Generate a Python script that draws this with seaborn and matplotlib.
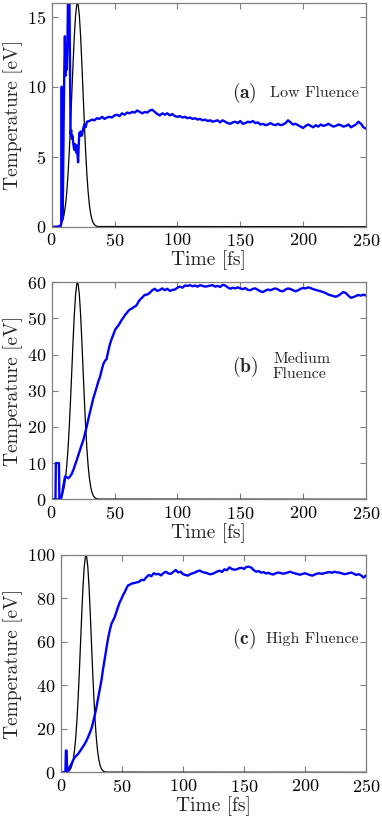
import numpy as np
import pandas as pd
import matplotlib
matplotlib.use("Agg")
import matplotlib.pyplot as plt
import seaborn as sns

# ---------------- data ----------------
pulse_time = [0, 4, 5, 6, 7, 8, 9, 10, 11, 12, 13, 14, 15, 16, 17, 18, 19, 20, 20.5,
              21, 22, 23, 24, 25, 26, 27, 28, 29, 30, 31, 32, 33, 34, 35, 36, 37, 250]
pulse_norm = [0, 0.0009, 0.002, 0.0044, 0.009, 0.0177, 0.0329, 0.058, 0.0972, 0.1548,
              0.2339, 0.3358, 0.4578, 0.5927, 0.7288, 0.851, 0.9435, 0.9936, 1.0,
              0.9936, 0.9435, 0.851, 0.7288, 0.5927, 0.4578, 0.3358, 0.2339, 0.1548,
              0.0972, 0.058, 0.0329, 0.0177, 0.009, 0.0044, 0.002, 0.0009, 0]

# (a) Low fluence
a_time_early = [0, 7.0, 7.6, 8.0, 8.4, 9.0, 9.5, 10.0, 10.5, 11.0, 11.5, 12.0, 12.5, 13.0,
                13.5, 14.0, 14.5, 15.0, 15.5, 16.0, 16.5, 17.0, 17.5, 18.0, 18.5, 19.0,
                19.5, 20.0, 20.5, 21.0, 21.5, 22.0, 22.5, 23.0, 23.5, 24.0, 25.0, 26.0,
                27.0, 28.0]
a_temp_early = [0, 0, 0.2, 10.0, 0.5, 2.5, 7.5, 11.0, 13.6, 10.8, 11.6, 11.2, 12.8, 16.5,
                18.0, 17.5, 12.0, 6.6, 6.9, 6.3, 6.5, 6.1, 5.7, 5.5, 5.9, 5.6,
                5.3, 5.8, 5.2, 4.6, 5.8, 6.7, 6.5, 6.8, 6.6, 6.5, 7.0, 7.3,
                7.1, 7.5]
a_time_late = list(np.arange(30, 251, 2))
a_temp_late = [7.55, 7.65, 7.6, 7.75, 7.7, 7.85, 7.7, 7.8, 7.85,
               7.8, 7.95, 8.0, 7.9, 8.1, 8.0, 8.15, 8.1,
               8.2, 8.15, 8.3, 8.2, 8.1, 8.2, 8.15, 8.3, 8.35,
               8.2, 8.05, 7.95, 8.1, 8.0, 8.1, 7.95, 8.05, 7.9, 7.85,
               7.9, 7.8, 7.85, 7.75, 7.8, 7.7, 7.75, 7.65, 7.7, 7.6,
               7.65, 7.55, 7.6, 7.5, 7.55, 7.6, 7.45, 7.6, 7.5, 7.4,
               7.35, 7.45, 7.5, 7.4, 7.55, 7.35, 7.4, 7.5, 7.45, 7.55,
               7.4, 7.45, 7.3, 7.35, 7.25, 7.3, 7.4, 7.3, 7.25, 7.35,
               7.25, 7.3, 7.4, 7.6, 7.45, 7.3, 7.35, 7.25, 7.15, 7.05,
               7.2, 7.3, 7.2, 7.1, 7.25, 7.15, 7.3, 7.2, 7.25, 7.35,
               7.25, 7.15, 7.2, 7.3, 7.25, 7.15, 7.2, 7.3, 7.1, 7.2,
               7.3, 7.5, 7.35, 7.1, 7.0]

# (b) Medium fluence
b_time_early = [0, 3.0, 3.3, 5.8, 6.1, 7.4, 8.0, 9.3, 10.6, 11.9, 13.2, 14.6, 15.9, 17.2,
                18.5, 19.9, 21.2, 22.5, 23.8, 25.2, 26.5, 27.8, 29.1, 30.5, 31.8, 33.1,
                34.5, 35.8, 37.1, 38.4, 39.8, 41.1, 42.4, 43.7, 45.0, 46.4, 47.7, 49.1,
                50.4, 51.7, 53.0, 54.4, 55.7, 57.0, 58.4, 59.7, 61.0, 62.3, 63.7, 65.0,
                66.3, 67.6, 69.0, 70.3]
b_temp_early = [0, 0, 10, 10, 0, 0, 0.9, 3.7, 6.3, 6.1, 5.8, 6.3, 7.0, 8.1,
                9.4, 10.8, 12.2, 13.6, 15.0, 16.4, 18.2, 20.0, 22.1, 24.1, 26.0, 27.9,
                29.5, 31.0, 32.6, 33.8, 35.8, 37.4, 38.3, 38.8, 41.0, 43.0, 44.3, 45.6,
                46.8, 47.5, 48.0, 48.8, 49.6, 50.2, 51.0, 51.5, 52.1, 52.5, 52.7, 53.1,
                53.3, 53.7, 54.6, 55.2]
b_time_late = list(np.arange(72, 251, 2))
b_temp_late = [55.8, 56.5, 56.6, 57.1, 57.8, 58.2, 57.6, 57.9, 58.3, 57.8,
               58.2, 57.6, 57.9, 58.0, 58.5, 58.8, 58.5, 59.1, 59.0, 59.2,
               58.9, 59.1, 58.8, 59.2, 59.0, 58.8, 58.9, 59.1, 59.2, 58.8,
               59.0, 58.7, 59.3, 59.1, 58.6, 58.2, 58.5, 58.3, 58.6, 58.3,
               58.1, 58.4, 57.9, 57.8, 58.2, 58.3, 57.9, 57.5, 57.3, 57.7,
               58.0, 57.8, 58.1, 58.3, 58.0, 57.6, 57.5, 58.0, 58.3, 58.1,
               57.8, 57.5, 57.8, 58.2, 58.4, 58.3, 58.6, 58.4, 58.1, 57.9,
               57.7, 57.5, 57.3, 57.0, 56.6, 56.4, 56.2, 56.0, 56.3, 56.8,
               57.3, 57.0, 56.3, 55.7, 55.9, 56.2, 56.5, 56.3, 56.6, 56.3]

# (c) High fluence
c_time_early = [0, 3.6, 4.0, 4.6, 5.0, 5.6, 6.3, 7.4, 8.5, 9.8, 11.2, 12.5, 13.9, 15.3,
                16.7, 18.0, 19.4, 20.8, 22.1, 23.5, 24.9, 26.2, 27.6, 29.0, 30.3, 31.7,
                33.1, 34.4, 35.8, 37.2, 38.5, 39.9, 41.3, 42.6, 44.0, 45.4, 46.7, 48.1,
                49.5, 50.8, 52.2, 53.6, 54.9, 56.3, 57.7, 59.0, 60.4, 61.8, 63.1]
c_temp_early = [0, 0, 10, 10, 0, 0, 1.5, 2.8, 3.8, 5.4, 6.9, 7.6, 8.4, 9.5,
                10.7, 11.8, 13.0, 14.5, 16.1, 18.0, 20.0, 22.8, 26.1, 29.8, 33.8, 38.0,
                42.2, 47.2, 52.2, 57.0, 61.4, 65.2, 68.3, 69.8, 71.4, 73.8, 76.0, 78.2,
                79.8, 81.5, 82.9, 84.6, 86.0, 86.3, 86.8, 87.0, 87.1, 87.4, 87.5]
c_time_late = list(np.arange(64, 251, 2))
c_temp_late = [87.7, 88.6, 88.4, 89.8, 90.8, 90.2, 91.6, 91.1, 91.3, 90.6,
               91.7, 92.3, 91.5, 91.3, 92.2, 93.1, 92.0, 92.3, 91.2, 90.8,
               90.5, 91.2, 91.6, 92.0, 92.6, 92.8, 92.1, 91.9, 91.6, 91.1,
               91.3, 91.8, 92.4, 92.8, 92.2, 93.4, 93.0, 94.3, 93.6, 93.2,
               93.4, 93.9, 94.1, 93.6, 94.5, 94.6, 94.2, 93.0, 92.3, 92.6,
               91.9, 92.1, 91.5, 91.8, 91.3, 91.0, 91.6, 91.9, 91.7, 91.4,
               91.6, 92.0, 92.3, 91.8, 91.5, 91.2, 90.9, 91.3, 91.6, 91.2,
               90.8, 90.5, 91.0, 91.4, 91.6, 91.3, 91.7, 91.9, 92.2, 91.8,
               92.3, 92.0, 91.9, 91.6, 91.2, 91.3, 91.7, 91.9, 91.4, 90.8,
               91.2, 90.6, 89.6, 90.6]

panel_ymax = [16, 60, 100]
panel_yticks = [[0, 5, 10, 15], [0, 10, 20, 30, 40, 50, 60], [0, 20, 40, 60, 80, 100]]
x_ticks = [0, 50, 100, 150, 200, 250]
panel_tags = ["(a)", "(b)", "(c)"]
panel_names = ["Low Fluence", "Medium\nFluence", "High Fluence"]

# ---------------- style ----------------
sns.set_style("ticks")
plt.rcParams["font.family"] = ["cmr10", "DejaVu Serif"]
plt.rcParams["mathtext.fontset"] = "cm"
plt.rcParams["axes.formatter.use_mathtext"] = True
plt.rcParams["axes.unicode_minus"] = False

spine_col = "#7f7f7f"

fig = plt.figure(figsize=(3.82, 8.17), dpi=100)
rects = [
    [0.1353, 0.7225, 0.8228, 0.2742],
    [0.1353, 0.3889, 0.8228, 0.2656],
    [0.1597, 0.0547, 0.7984, 0.2660],
]
tag_pos = [(0.574, 0.597), (0.574, 0.611), (0.561, 0.612)]
name_pos = [(0.695, 0.597), (0.704, 0.611), (0.671, 0.612)]

series = [
    (a_time_early + a_time_late, a_temp_early + a_temp_late),
    (b_time_early + b_time_late, b_temp_early + b_temp_late),
    (c_time_early + c_time_late, c_temp_early + c_temp_late),
]

for i in range(3):
    ax = fig.add_axes(rects[i])
    ymax = panel_ymax[i]
    pulse_df = pd.DataFrame({"t": pulse_time, "v": np.array(pulse_norm) * ymax})
    sns.lineplot(data=pulse_df, x="t", y="v", ax=ax, color="black", lw=0.9,
                 estimator=None, sort=False, legend=False)
    tt, vv = series[i]
    df = pd.DataFrame({"t": tt, "v": vv})
    sns.lineplot(data=df, x="t", y="v", ax=ax, color="#0000ff", lw=1.7,
                 estimator=None, sort=False, legend=False)
    ax.set_xlim(0, 250)
    ax.set_ylim(0, ymax)
    ax.set_xticks(x_ticks)
    ax.set_yticks(panel_yticks[i])
    ax.tick_params(direction="in", top=True, right=True, length=4, width=0.8,
                   color=spine_col, labelsize=13, labelcolor="black", pad=4)
    for s in ax.spines.values():
        s.set_color(spine_col)
        s.set_linewidth(0.9)
    ax.set_xlabel("Time [fs]", fontsize=14, labelpad=1)
    ax.set_ylabel("Temperature [eV]", fontsize=14, labelpad=3)
    ax.text(tag_pos[i][0], tag_pos[i][1], r"$\mathbf{" + panel_tags[i] + "}$",
            transform=ax.transAxes, fontsize=14, va="center", ha="left")
    ax.text(name_pos[i][0], name_pos[i][1], panel_names[i], transform=ax.transAxes,
            fontsize=11.5, va="center", ha="left", linespacing=1.2)

fig.savefig("out.png", dpi=100)
